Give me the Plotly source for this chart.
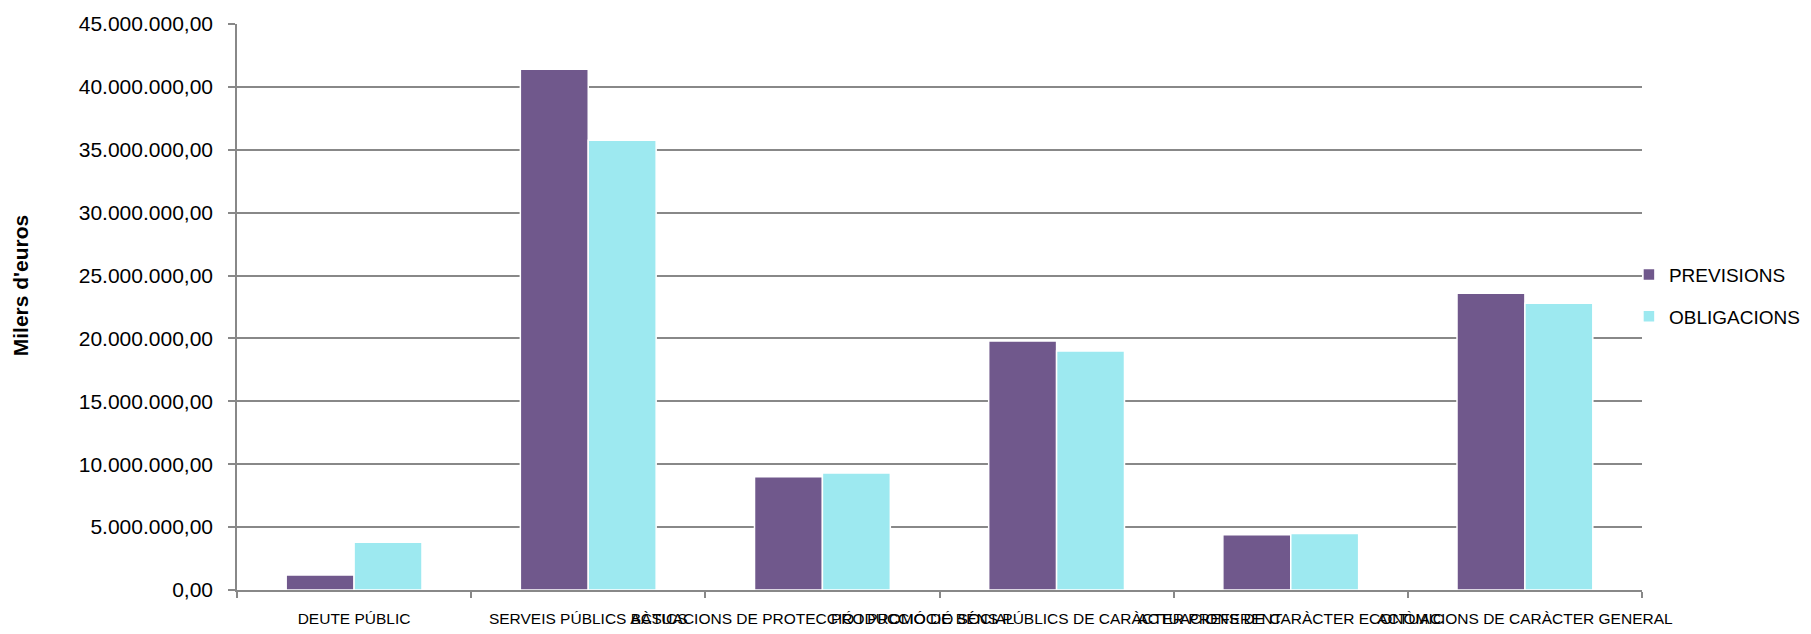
import plotly.graph_objects as go

categories = [
    "DEUTE PÚBLIC",
    "SERVEIS PÚBLICS BÀSICS",
    "ACTUACIONS DE PROTECCIÓ I PROMOCIÓ SOCIAL",
    "PRODUCCIÓ DE BÉNS PÚBLICS DE CARÀCTER PREFERENT",
    "ACTUACIONS DE CARÀCTER ECONÒMIC",
    "ACTUACIONS DE CARÀCTER GENERAL",
]
previsions = [1200000, 41400000, 9000000, 19800000, 4400000, 23600000]
obligacions = [3800000, 35750000, 9300000, 19000000, 4500000, 22800000]
y_title = "Milers d'euros"

fig = go.Figure()
fig.add_trace(go.Bar(
    x=categories, y=previsions, name="PREVISIONS", legendgroup="a",
    marker=dict(color="#70588C", line=dict(color="white", width=1.5)),
))
fig.add_trace(go.Bar(
    x=categories, y=obligacions, name="OBLIGACIONS", legendgroup="b",
    marker=dict(color="#9DE9F0", line=dict(color="white", width=1.5)),
))

fig.update_layout(
    width=1803, height=626,
    barmode="group", bargap=0.42, bargroupgap=0,
    separators=",.",
    paper_bgcolor="white", plot_bgcolor="white",
    margin=dict(l=229, r=169, t=16, b=44, autoexpand=False),
    font=dict(family="Liberation Sans, Arial, sans-serif", color="#000000"),
    legend=dict(
        x=0.9907, y=0.52, xanchor="left", yanchor="middle",
        font=dict(family="Liberation Sans, sans-serif", size=19),
        itemwidth=30, tracegroupgap=14,
        bgcolor="rgba(0,0,0,0)",
    ),
    showlegend=True,
    annotations=[dict(
        text="<b>" + y_title + "</b>",
        xref="paper", yref="paper",
        x=-0.1535, y=0.539, xanchor="center", yanchor="middle",
        textangle=-90, showarrow=False,
        font=dict(family="Liberation Sans, sans-serif", size=21, color="#000000"),
    )],
)

fig.update_xaxes(
    type="category",
    tickangle=0,
    automargin=False,
    tickfont=dict(family="Liberation Sans, sans-serif", size=15.5, color="#000000"),
    ticklabelstandoff=14,
    showline=True, linecolor="#888888", linewidth=1.5,
    ticks="outside", tickson="boundaries", ticklen=6, tickcolor="#888888", tickwidth=1.5,
    showgrid=False,
)
fig.update_yaxes(
    range=[0, 45000000],
    dtick=5000000, tick0=0,
    tickformat=",.2f",
    automargin=False,
    tickfont=dict(family="Liberation Sans, Arial, sans-serif", size=21, color="#000000"),
    ticklabelstandoff=11,
    showgrid=True, gridcolor="#888888", gridwidth=1.5,
    showline=True, linecolor="#888888", linewidth=1.5,
    ticks="outside", ticklen=7, tickcolor="#888888", tickwidth=1.5,
    zeroline=False,
)

fig.write_html("out.html")
